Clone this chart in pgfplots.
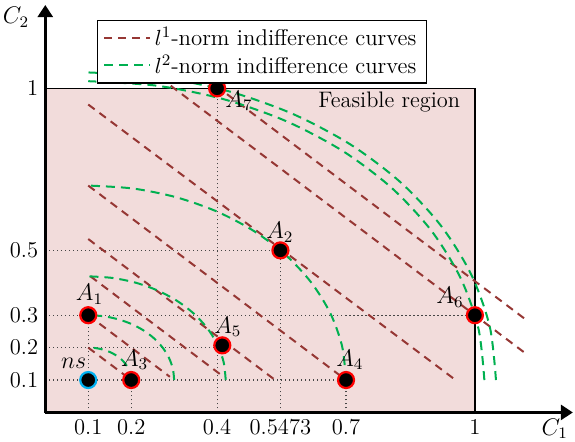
\documentclass[border=0pt]{standalone}
\usepackage{pgfplots}
\pgfplotsset{compat=1.18}
\usetikzlibrary{arrows.meta}
\definecolor{lbrown}{RGB}{150,55,52}
\definecolor{lgreen}{RGB}{0,176,80}
\definecolor{feas}{RGB}{242,220,219}
\definecolor{nsblue}{RGB}{0,176,240}
\definecolor{guide}{RGB}{70,70,70}
\begin{document}
\begin{tikzpicture}
\begin{axis}[
  x=214.8pt, y=162.05pt,
  xmin=0, xmax=1.228, ymin=0, ymax=1.257,
  axis lines=left,
  axis line style={line width=1.3pt, -{Triangle[length=6pt,width=7.5pt]}},
  axis on top,
  clip=false,
  xtick={0.1,0.2,0.4,0.5473,0.7,1},
  xticklabels={0.1,0.2,0.4,0.5473,0.7,1},
  ytick={0.1,0.2,0.3,0.5,1},
  yticklabels={0.1,0.2,0.3,0.5,1},
  major tick length=0pt,
  tick label style={font=\fontsize{11.3}{13}\selectfont},
  legend style={at={(0.0974,0.9635)}, anchor=north west, draw=black, line width=0.6pt,
    font=\fontsize{11.4}{13}\selectfont, inner xsep=3pt, inner ysep=1.5pt, row sep=-1pt,
    cells={anchor=west}},
  legend image code/.code={\draw[#1] (0cm,0cm) -- (0.8cm,0cm);},
]
% feasible region
\addplot[draw=black, line width=0.8pt, fill=feas, forget plot] coordinates {(0,0) (1,0) (1,1) (0,1)} -- cycle;

% legend images
\addlegendimage{lbrown, line width=1pt, dash pattern=on 4pt off 3pt}
\addlegendentry{$l^1$-norm indifference curves}
\addlegendimage{lgreen, line width=1pt, dash pattern=on 4.5pt off 3pt}
\addlegendentry{$l^2$-norm indifference curves}

% guide lines (dotted)
\pgfplotsset{guidestyle/.style={guide, line width=0.6pt, dash pattern=on 0.6pt off 1.4pt, forget plot}}
\addplot[guidestyle] coordinates {(0,0.1) (0.7,0.1)};
\addplot[guidestyle] coordinates {(0,0.2) (0.412,0.2)};
\addplot[guidestyle] coordinates {(0,0.3) (1,0.3)};
\addplot[guidestyle] coordinates {(0,0.5) (0.5473,0.5)};
\addplot[guidestyle] coordinates {(0.1,0) (0.1,0.3)};
\addplot[guidestyle] coordinates {(0.2,0) (0.2,0.1)};
\addplot[guidestyle] coordinates {(0.4,0) (0.4,1)};
\addplot[guidestyle] coordinates {(0.5473,0) (0.5473,0.5)};
\addplot[guidestyle] coordinates {(0.7,0) (0.7,0.1)};

% l1 indifference lines
\pgfplotsset{lonestyle/.style={lbrown, line width=1pt, dash pattern=on 4pt off 3pt, forget plot}}
\addplot[lonestyle] coordinates {(0.1,0.2) (0.2,0.1)};
\addplot[lonestyle] coordinates {(0.1,0.3) (0.29,0.11)};
\addplot[lonestyle] coordinates {(0.105,0.42) (0.41,0.115)};
\addplot[lonestyle] coordinates {(0.1,0.535) (0.535,0.1)};
\addplot[lonestyle] coordinates {(0.1,0.7) (0.7,0.1)};
\addplot[lonestyle] coordinates {(0.1,0.95) (0.955,0.1)};
\addplot[lonestyle] coordinates {(0.24,1.06) (1.115,0.185)};
\addplot[lonestyle] coordinates {(0.345,1.06) (1.115,0.29)};

% l2 indifference arcs
\pgfplotsset{ltwostyle/.style={lgreen, line width=1pt, dash pattern=on 4.5pt off 3pt, smooth, forget plot}}
\addplot[ltwostyle] coordinates {(0.2,0.1) (0.1985,0.1174) (0.1940,0.1342) (0.1866,0.15) (0.1766,0.1643) (0.1643,0.1766) (0.15,0.1866) (0.1342,0.1940) (0.1174,0.1985) (0.1,0.2)};
\addplot[ltwostyle] coordinates {(0.3,0.1) (0.2970,0.1347) (0.2879,0.1684) (0.2732,0.2) (0.2532,0.2286) (0.2286,0.2532) (0.2,0.2732) (0.1684,0.2879) (0.1347,0.2970) (0.1,0.3)};
\addplot[ltwostyle] coordinates {(0.42,0.1) (0.4151,0.1556) (0.4007,0.2094) (0.3771,0.26) (0.3451,0.3057) (0.3057,0.3451) (0.26,0.3771) (0.2094,0.4007) (0.1556,0.4151) (0.1,0.42)};
\addplot[ltwostyle] coordinates {(0.7,0.1) (0.6909,0.2042) (0.6638,0.3052) (0.6196,0.4) (0.5596,0.4857) (0.4857,0.5596) (0.4,0.6196) (0.3052,0.6638) (0.2042,0.6909) (0.1,0.7)};
\addplot[ltwostyle] coordinates {(1.022,0.1) (1.008,0.2601) (0.9664,0.4153) (0.8985,0.561) (0.8063,0.6927) (0.6927,0.8063) (0.561,0.8985) (0.4153,0.9664) (0.2601,1.008) (0.1,1.022)};
\addplot[ltwostyle] coordinates {(1.049,0.1) (1.0346,0.2648) (0.9918,0.4246) (0.9219,0.5745) (0.827,0.71) (0.71,0.827) (0.5745,0.9219) (0.4246,0.9918) (0.2648,1.0346) (0.1,1.049)};

% points
\addplot[only marks, mark=*, mark size=4pt, mark options={fill=black, draw=red, line width=1.1pt}, forget plot]
  coordinates {(0.1,0.3) (0.5473,0.5) (0.2,0.1) (0.7,0.1) (0.412,0.207) (1,0.3) (0.4,1)};
\addplot[only marks, mark=*, mark size=4pt, mark options={fill=black, draw=nsblue, line width=1.1pt}, forget plot]
  coordinates {(0.1,0.1)};

% labels
\node[font=\fontsize{12}{14}\selectfont] at (axis cs:0.103,0.365) {$A_1$};
\node[font=\fontsize{12}{14}\selectfont] at (axis cs:0.546,0.556) {$A_2$};
\node[font=\fontsize{12}{14}\selectfont] at (axis cs:0.208,0.162) {$A_3$};
\node[font=\fontsize{12}{14}\selectfont] at (axis cs:0.709,0.162) {$A_4$};
\node[font=\fontsize{12}{14}\selectfont] at (axis cs:0.425,0.264) {$A_5$};
\node[font=\fontsize{12}{14}\selectfont] at (axis cs:0.942,0.356) {$A_6$};
\node[font=\fontsize{12}{14}\selectfont] at (axis cs:0.451,0.961) {$A_7$};
\node[font=\fontsize{12}{14}\selectfont] at (axis cs:0.066,0.152) {$ns$};
\node[font=\fontsize{11.2}{13}\selectfont, anchor=east] at (axis cs:0.982,0.957) {Feasible region};
\node[font=\fontsize{12}{14}\selectfont] at (axis cs:1.186,-0.05) {$C_1$};
\node[font=\fontsize{12}{14}\selectfont] at (axis cs:-0.068,1.22) {$C_2$};

\coordinate (bbll) at (axis cs:-0.1054,-0.0882);
\coordinate (bbur) at (axis cs:1.2330,1.2725);
\end{axis}
\pgfresetboundingbox
\path[use as bounding box] (bbll) rectangle (bbur);
\end{tikzpicture}
\end{document}
